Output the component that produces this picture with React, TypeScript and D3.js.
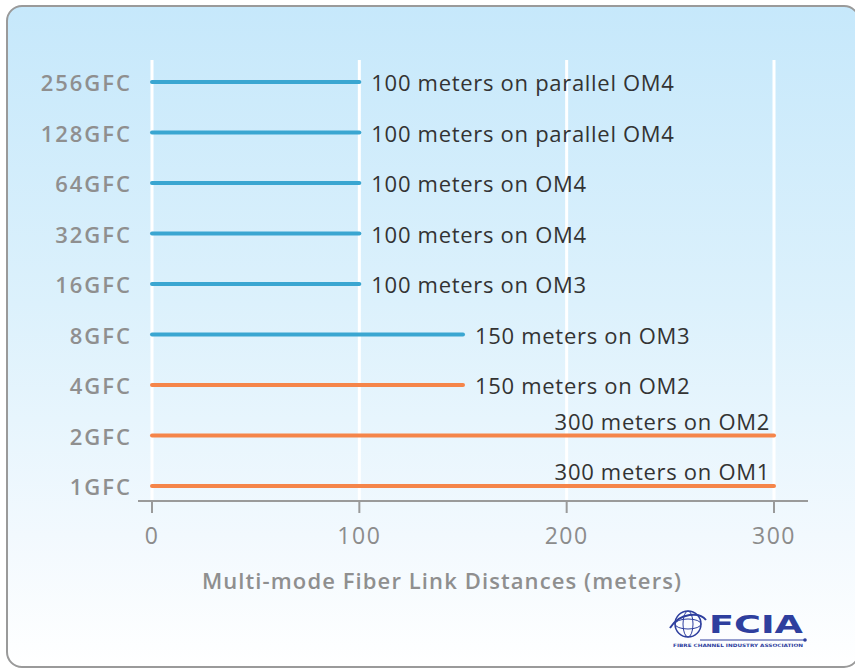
import React from "react";
import * as d3 from "d3";

const categories = ["256GFC", "128GFC", "64GFC", "32GFC", "16GFC", "8GFC", "4GFC", "2GFC", "1GFC"];
const distances = [100, 100, 100, 100, 100, 150, 150, 300, 300];
const fiberTypes = ["parallel OM4", "parallel OM4", "OM4", "OM4", "OM3", "OM3", "OM2", "OM2", "OM1"];
const xTicks = [0, 100, 200, 300];
const axisTitle = "Multi-mode Fiber Link Distances (meters)";

const W = 855;
const H = 669;
const FONT = "'Open Sans', 'DejaVu Sans', sans-serif";

export default function App() {
  const x = d3.scaleLinear().domain([0, 300]).range([152, 774]);
  const y = d3.scalePoint<string>().domain(categories).range([82, 486]);
  const colorOf = (f: string) => (/OM1|OM2/.test(f) ? "#f5854a" : "#3aa6d1");
  const axisY = 501;

  return (
    <svg
      width={W}
      height={H}
      viewBox={`0 0 ${W} ${H}`}
      style={{ position: "absolute", left: 0, top: 0, display: "block" }}
    >
      <defs>
        <linearGradient id="bg" x1="0" y1="0" x2="0" y2="1">
          <stop offset="0" stopColor="#c6e8fb" />
          <stop offset="0.45" stopColor="#dcf1fc" />
          <stop offset="0.8" stopColor="#f2f9fe" />
          <stop offset="1" stopColor="#ffffff" />
        </linearGradient>
      </defs>
      <rect x={0} y={0} width={W} height={H} fill="#ffffff" />
      <rect x={7} y={6} width={852} height={661} rx={15} ry={15} fill="url(#bg)" stroke="#9a9a9a" strokeWidth={2} />

      {/* gridlines */}
      {xTicks.map((t) => (
        <line key={"g" + t} x1={x(t)} x2={x(t)} y1={60} y2={axisY} stroke="#ffffff" strokeWidth={3} />
      ))}

      {/* axis */}
      <line x1={138} x2={808} y1={axisY} y2={axisY} stroke="#9a9a9a" strokeWidth={2} />
      {xTicks.map((t) => (
        <g key={"t" + t}>
          <line x1={x(t)} x2={x(t)} y1={axisY} y2={axisY + 12} stroke="#9a9a9a" strokeWidth={2} />
          <text
            x={x(t)}
            y={axisY + 34}
            textAnchor="middle"
            dominantBaseline="central"
            fontFamily={FONT}
            fontSize={23}
            letterSpacing={1.5}
            fill="#8c8c8c"
          >
            {t}
          </text>
        </g>
      ))}
      <text
        x={442}
        y={580}
        textAnchor="middle"
        dominantBaseline="central"
        fontFamily={FONT}
        fontSize={22}
        fontWeight={600}
        letterSpacing={1.1}
        fill="#8f8f8f"
      >
        {axisTitle}
      </text>

      {/* category labels */}
      {categories.map((c) => (
        <text
          key={"c" + c}
          x={132}
          y={y(c)!}
          textAnchor="end"
          dominantBaseline="central"
          fontFamily={FONT}
          fontSize={22}
          fontWeight={600}
          letterSpacing={2}
          fill="#8f8f8f"
        >
          {c}
        </text>
      ))}

      {/* bars */}
      {categories.map((c, i) => {
        const v = distances[i];
        const yy = y(c)!;
        const label = `${v} meters on ${fiberTypes[i]}`;
        const full = v >= 300;
        return (
          <g key={"b" + c}>
            <line
              x1={x(0)}
              x2={x(v)}
              y1={yy}
              y2={yy}
              stroke={colorOf(fiberTypes[i])}
              strokeWidth={4}
              strokeLinecap="round"
            />
            <text
              x={full ? x(v) - 4 : x(v) + 12}
              y={full ? yy - 15 : yy}
              textAnchor={full ? "end" : "start"}
              dominantBaseline="central"
              fontFamily={FONT}
              fontSize={22}
              letterSpacing={0.7}
              fill="#333333"
            >
              {label}
            </text>
          </g>
        );
      })}

      {/* FCIA logo */}
      <g>
        <circle cx={688} cy={624} r={13} fill="none" stroke="#2e3f9e" strokeWidth={1.5} />
        <ellipse cx={688} cy={624} rx={13} ry={5} fill="none" stroke="#2e3f9e" strokeWidth={1} />
        <ellipse cx={688} cy={624} rx={5} ry={13} fill="none" stroke="#2e3f9e" strokeWidth={1} />
        <path d="M670,628 C680,612 700,612 706,620" fill="none" stroke="#2e3f9e" strokeWidth={2} />
        <text
          x={756}
          y={625}
          textAnchor="middle"
          dominantBaseline="central"
          fontFamily="'DejaVu Sans', sans-serif"
          fontSize={24}
          fontWeight={700}
          fill="#2e3f9e"
          textLength={94}
          lengthAdjust="spacingAndGlyphs"
        >
          FCIA
        </text>
        <line x1={700} x2={804} y1={640} y2={640} stroke="#2e3f9e" strokeWidth={1} />
        <circle cx={805} cy={640} r={1.8} fill="#2e3f9e" />
        <text
          x={738}
          y={645}
          textAnchor="middle"
          dominantBaseline="central"
          fontFamily="'DejaVu Sans', sans-serif"
          fontSize={4.5}
          fontWeight={700}
          fill="#2e3f9e"
          textLength={130}
          lengthAdjust="spacingAndGlyphs"
        >
          FIBRE CHANNEL INDUSTRY ASSOCIATION
        </text>
      </g>
    </svg>
  );
}
